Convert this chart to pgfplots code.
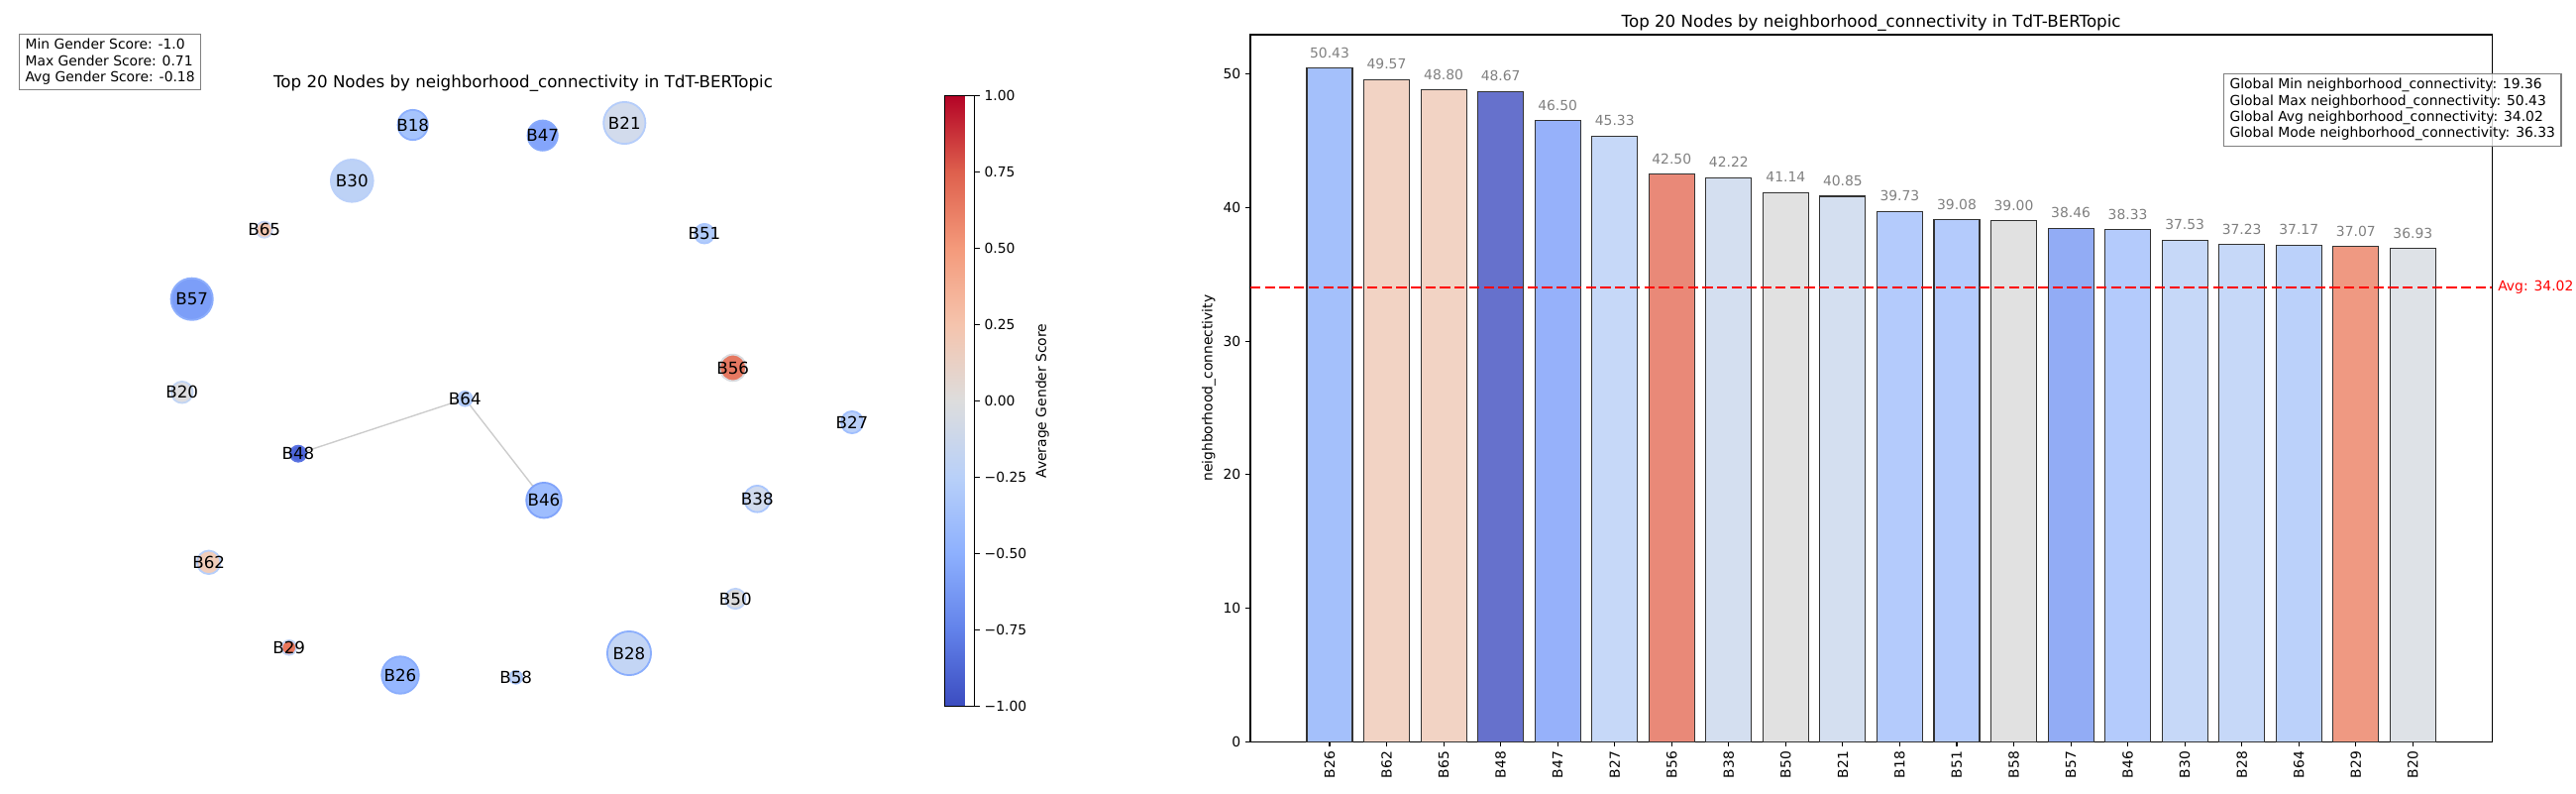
\documentclass[border=0pt]{standalone}
\usepackage{pgfplots}
\pgfplotsset{compat=1.18}
\usepackage{fontspec}
\setmainfont{DejaVu Sans}
\pgfplotsset{/pgf/number format/assume math mode=true}
\pgfplotsset{colormap={coolwarm}{rgb255=(59,76,192) rgb255=(98,130,234) rgb255=(141,176,254) rgb255=(184,208,249) rgb255=(221,221,221) rgb255=(245,196,173) rgb255=(244,154,123) rgb255=(222,96,77) rgb255=(180,4,38)}}
% node colours (fill / edge)
\definecolor{fB18}{RGB}{166,196,252}\definecolor{eB18}{RGB}{140,175,252}
\definecolor{fB30}{RGB}{189,210,246}\definecolor{eB30}{RGB}{186,208,249}
\definecolor{fB65}{RGB}{243,199,177}\definecolor{eB65}{RGB}{200,215,245}
\definecolor{fB57}{RGB}{124,158,248}\definecolor{eB57}{RGB}{141,174,252}
\definecolor{fB47}{RGB}{132,165,251}\definecolor{eB47}{RGB}{136,170,251}
\definecolor{fB21}{RGB}{210,219,236}\definecolor{eB21}{RGB}{181,205,250}
\definecolor{fB51}{RGB}{178,204,251}\definecolor{eB51}{RGB}{170,198,253}
\definecolor{fB20}{RGB}{221,221,224}\definecolor{eB20}{RGB}{194,213,244}
\definecolor{fB64}{RGB}{183,207,249}\definecolor{eB64}{RGB}{177,203,252}
\definecolor{fB48}{RGB}{78,102,219}\definecolor{eB48}{RGB}{90,115,225}
\definecolor{fB46}{RGB}{158,189,254}\definecolor{eB46}{RGB}{128,163,250}
\definecolor{fB62}{RGB}{241,205,186}\definecolor{eB62}{RGB}{182,206,250}
\definecolor{fB29}{RGB}{232,118,92}\definecolor{eB29}{RGB}{192,211,245}
\definecolor{fB26}{RGB}{150,183,255}\definecolor{eB26}{RGB}{138,173,252}
\definecolor{fB58}{RGB}{196,213,245}\definecolor{eB58}{RGB}{168,197,253}
\definecolor{fB56}{RGB}{229,120,97}\definecolor{eB56}{RGB}{218,220,224}
\definecolor{fB27}{RGB}{186,208,249}\definecolor{eB27}{RGB}{160,191,254}
\definecolor{fB38}{RGB}{209,219,238}\definecolor{eB38}{RGB}{170,198,253}
\definecolor{fB50}{RGB}{220,220,221}\definecolor{eB50}{RGB}{188,209,248}
\definecolor{fB28}{RGB}{195,213,245}\definecolor{eB28}{RGB}{139,174,252}
% bar colours
\definecolor{b0}{RGB}{164,192,251}
\definecolor{b1}{RGB}{242,211,196}
\definecolor{b2}{RGB}{242,211,196}
\definecolor{b3}{RGB}{102,113,204}
\definecolor{b4}{RGB}{150,177,250}
\definecolor{b5}{RGB}{198,216,248}
\definecolor{b6}{RGB}{233,137,120}
\definecolor{b7}{RGB}{212,223,240}
\definecolor{b8}{RGB}{225,225,225}
\definecolor{b9}{RGB}{212,223,240}
\definecolor{b10}{RGB}{180,203,252}
\definecolor{b11}{RGB}{180,203,252}
\definecolor{b12}{RGB}{225,225,225}
\definecolor{b13}{RGB}{146,172,245}
\definecolor{b14}{RGB}{180,203,252}
\definecolor{b15}{RGB}{198,216,248}
\definecolor{b16}{RGB}{198,216,248}
\definecolor{b17}{RGB}{187,209,250}
\definecolor{b18}{RGB}{239,153,130}
\definecolor{b19}{RGB}{222,226,231}
\newcommand{\gnode}[4]{\addplot[only marks, mark=*, mark size=#3, mark options={fill=f#4, draw=e#4, line width=1.3pt}] coordinates {(#1,#2)};}
\newcommand{\glabel}[3]{\node[font=\fontsize{12}{14}\selectfont, inner sep=0pt] at (#1,#2) {#3};}
\pgfplotsset{mybar/.style={ybar, bar width=0.8, bar shift=0pt, fill=#1, draw=black!80, line width=0.8pt,
  nodes near coords={\pgfmathprintnumber[fixed,fixed zerofill,precision=2]{\pgfplotspointmeta}},
  every node near coord/.append style={text=gray, font=\fontsize{10}{12}\selectfont, anchor=south, inner sep=0pt, yshift=7.2pt}}}
\begin{document}
\begin{tikzpicture}
\path[use as bounding box] (0,0) rectangle (1872pt,576pt);
% ---------------- network ----------------
\begin{axis}[name=net, at={(0pt,0pt)}, anchor=south west, scale only axis,
  width=720pt, height=576pt, xmin=0, xmax=1000, ymin=0, ymax=800, y dir=reverse,
  hide axis, clip=false]
\addplot[black!20, line width=1pt] coordinates {(301,457.7) (469.3,402.3) (549,504.7)};
\gnode{416.7}{126}{10.9}{B18}
\gnode{355.3}{182.3}{15.4}{B30}
\gnode{266.7}{231.7}{5.8}{B65}
\gnode{193.7}{301.7}{15.2}{B57}
\gnode{547.7}{136.7}{10.9}{B47}
\gnode{630.3}{124}{15.2}{B21}
\gnode{711}{235.7}{7.1}{B51}
\gnode{183.7}{395.7}{7.8}{B20}
\gnode{469.3}{402.3}{5.3}{B64}
\gnode{301}{457.7}{5.8}{B48}
\gnode{549}{504.7}{12.8}{B46}
\gnode{210.7}{567.3}{8.5}{B62}
\gnode{291.7}{653.3}{5.3}{B29}
\gnode{404}{681}{13.5}{B26}
\gnode{520.7}{683.3}{4.6}{B58}
\gnode{739.7}{371}{9.6}{B56}
\gnode{860}{426}{8.0}{B27}
\gnode{764.3}{503.3}{9.6}{B38}
\gnode{742.3}{604}{7.3}{B50}
\gnode{635}{659}{15.9}{B28}
\end{axis}
% ---------------- colour bar ----------------
\begin{axis}[at={(678.24pt,63.14pt)}, anchor=south west, scale only axis,
  width=21.6pt, height=443.2pt, xmin=0, xmax=1, ymin=-1, ymax=1, hide axis,
  colormap name=coolwarm, point meta min=-1, point meta max=1, colorbar,
  colorbar style={at={(parent axis.south west)}, anchor=south west,
    scale only axis, width=21.6pt, height=443.2pt,
    ytick={-1,-0.75,-0.5,-0.25,0,0.25,0.5,0.75,1},
    yticklabels={−1.00,−0.75,−0.50,−0.25,0.00,0.25,0.50,0.75,1.00},
    yticklabel style={font=\fontsize{10}{12}\selectfont},
    ytick pos=right, yticklabel pos=right, tick align=outside, major tick length=3.5pt,
    every tick/.style={black, line width=0.8pt}, axis line style={line width=0.8pt},
    ylabel={Average Gender Score}, ylabel style={at={(axis description cs:3.27,0.5)}, anchor=center, font=\fontsize{10}{12}\selectfont}}]
\end{axis}
% ---------------- bar chart ----------------
\begin{axis}[at={(908.64pt,37.22pt)}, anchor=south west, scale only axis,
  width=902.38pt, height=513.58pt,
  xmin=-1.39, xmax=20.39, ymin=0, ymax=52.95,
  xtick={0,...,19},
  xticklabels={B26,B62,B65,B48,B47,B27,B56,B38,B50,B21,B18,B51,B58,B57,B46,B30,B28,B64,B29,B20},
  x tick label style={rotate=90, anchor=east},
  ytick={0,10,20,30,40,50},
  tick label style={font=\fontsize{10}{12}\selectfont},
  tick align=outside, xtick pos=bottom, ytick pos=left, major tick length=3.5pt,
  every tick/.style={black, line width=0.8pt}, axis line style={line width=0.8pt},
  ylabel={neighborhood\_connectivity},
  ylabel style={at={(axis description cs:-0.0335,0.5)}, anchor=center, font=\fontsize{10}{12}\selectfont},
  clip=false]
\addplot[mybar=b0] coordinates {(0,50.43)};
\addplot[mybar=b1] coordinates {(1,49.57)};
\addplot[mybar=b2] coordinates {(2,48.80)};
\addplot[mybar=b3] coordinates {(3,48.67)};
\addplot[mybar=b4] coordinates {(4,46.50)};
\addplot[mybar=b5] coordinates {(5,45.33)};
\addplot[mybar=b6] coordinates {(6,42.50)};
\addplot[mybar=b7] coordinates {(7,42.22)};
\addplot[mybar=b8] coordinates {(8,41.14)};
\addplot[mybar=b9] coordinates {(9,40.85)};
\addplot[mybar=b10] coordinates {(10,39.73)};
\addplot[mybar=b11] coordinates {(11,39.08)};
\addplot[mybar=b12] coordinates {(12,39.00)};
\addplot[mybar=b13] coordinates {(13,38.46)};
\addplot[mybar=b14] coordinates {(14,38.33)};
\addplot[mybar=b15] coordinates {(15,37.53)};
\addplot[mybar=b16] coordinates {(16,37.23)};
\addplot[mybar=b17] coordinates {(17,37.17)};
\addplot[mybar=b18] coordinates {(18,37.07)};
\addplot[mybar=b19] coordinates {(19,36.93)};
\addplot[red, line width=2pt, dash pattern=on 7.4pt off 3.2pt] coordinates {(-1.39,34.02) (20.39,34.02)};
\node[anchor=west, text=red, inner sep=0pt, xshift=4.1pt, font=\fontsize{10}{12}\selectfont] at (axis cs:20.39,34.02) {Avg: 34.02};
\end{axis}
% ---------------- texts (pixel coordinates, from top left) ----------------
\begin{scope}[x=0.72pt, y=-0.72pt, yshift=576pt]
\glabel{416.7}{126}{B18}
\glabel{355.3}{182.3}{B30}
\glabel{266.7}{231.7}{B65}
\glabel{193.7}{301.7}{B57}
\glabel{547.7}{136.7}{B47}
\glabel{630.3}{124}{B21}
\glabel{711}{235.7}{B51}
\glabel{183.7}{395.7}{B20}
\glabel{469.3}{402.3}{B64}
\glabel{301}{457.7}{B48}
\glabel{549}{504.7}{B46}
\glabel{210.7}{567.3}{B62}
\glabel{291.7}{653.3}{B29}
\glabel{404}{681}{B26}
\glabel{520.7}{683.3}{B58}
\glabel{739.7}{371}{B56}
\glabel{860}{426}{B27}
\glabel{764.3}{503.3}{B38}
\glabel{742.3}{604}{B50}
\glabel{635}{659}{B28}
\node[anchor=base, font=\fontsize{12}{14}\selectfont, inner sep=0pt] at (1888.6,27.2) {Top 20 Nodes by neighborhood\_connectivity in TdT-BERTopic};
\node[anchor=base, font=\fontsize{12}{14}\selectfont, inner sep=0pt] at (528,88.2) {Top 20 Nodes by neighborhood\_connectivity in TdT-BERTopic};
\node[draw=gray, fill=white, anchor=north west, align=left, inner xsep=4.3pt, inner ysep=3.5pt, line width=0.8pt,
  font=\fontsize{10}{11.75}\selectfont] at (19,34) {Min Gender Score: -1.0\\Max Gender Score: 0.71\\Avg Gender Score: -0.18};
\node[draw=gray, fill=white, fill opacity=0.8, text opacity=1, anchor=north west, align=left, inner xsep=4.3pt, inner ysep=3.5pt, line width=0.8pt,
  font=\fontsize{10}{11.75}\selectfont] at (2244,74) {Global Min neighborhood\_connectivity: 19.36\\Global Max neighborhood\_connectivity: 50.43\\Global Avg neighborhood\_connectivity: 34.02\\Global Mode neighborhood\_connectivity: 36.33};
\end{scope}
\end{tikzpicture}
\end{document}
